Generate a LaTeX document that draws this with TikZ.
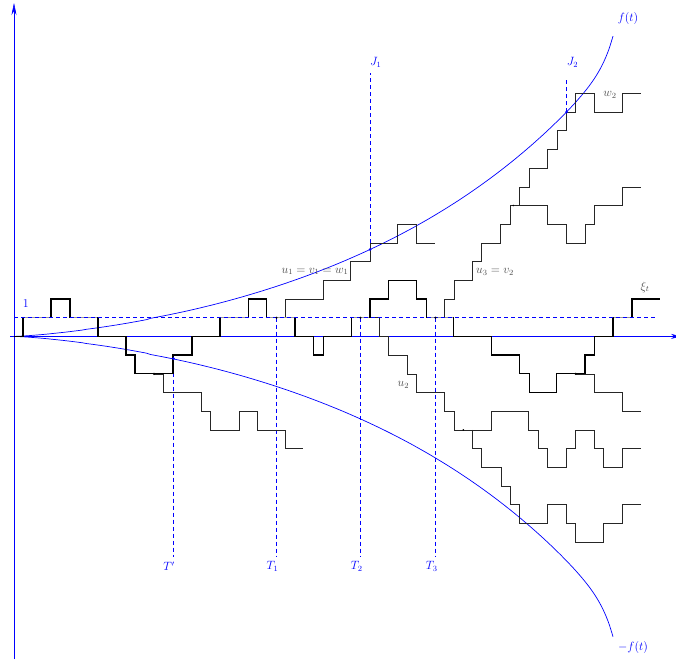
\documentclass[tikz,border=0pt]{standalone}
\usetikzlibrary{arrows.meta}
\begin{document}
\begin{tikzpicture}[x=1pt,y=-1pt,
  axis/.style={blue, line width=0.6pt},
  bound/.style={blue, line width=0.7pt},
  vdash/.style={blue, line width=0.7pt, dash pattern=on 4pt off 3pt},
  mainpath/.style={black, line width=1.3pt, line join=miter},
  hilite/.style={black!40, line width=1.3pt},
  branch/.style={black!85, line width=0.6pt},
  lab/.style={blue, font=\large, inner sep=1pt},
  glab/.style={black!70, font=\large, inner sep=1pt},
  bdot/.style={circle, fill=blue, inner sep=0pt, minimum size=3pt},
  kdot/.style={circle, fill=black, inner sep=0pt, minimum size=2.4pt},
  declare function={ff(\t)=277.5*pow(\t/(1200-\t),1.345)+24*exp(max((\t-599)/10,-9));},
]
\useasboundingbox (0,0) rectangle (676,659);

% axes
\coordinate (xa0) at (10,336.4);
\coordinate (xa1) at (681,336.4);
\coordinate (ya0) at (14,659);
\coordinate (ya1) at (14,3);
\draw[axis,-{Stealth[length=10pt,width=5pt]}] (xa0) -- (xa1);
\draw[axis,-{Stealth[length=12pt,width=5pt]}] (ya0) -- (ya1);

% boundary curves f(t) and -f(t)
\coordinate (o) at (14,336.4);
\draw[bound] (o) -- plot[domain=1:599, samples=160, smooth] ({14+\x},{336.4-ff(\x)});
\draw[bound] (o) -- plot[domain=1:599, samples=160, smooth] ({14+\x},{336.4+ff(\x)});

% vertical dashed lines
\coordinate (tp0) at (173.5,358.6); \coordinate (tp1) at (173.5,557);
\coordinate (t10) at (276.5,317.7); \coordinate (t11) at (276.5,557);
\coordinate (t20) at (360.5,317.7); \coordinate (t21) at (360.5,557);
\coordinate (t30) at (435.5,317.7); \coordinate (t31) at (435.5,557);
\coordinate (j10) at (370,249.5); \coordinate (j11) at (370,73);
\coordinate (j20) at (566.7,112); \coordinate (j21) at (566.7,78);
\draw[vdash] (tp0) -- (tp1);
\draw[vdash] (t10) -- (t11);
\draw[vdash] (t20) -- (t21);
\draw[vdash] (t30) -- (t31);
\draw[vdash] (j10) -- (j11);
\draw[vdash] (j20) -- (j21);

\begin{scope}[y=18.7pt, yshift=-336.4pt]
% branch from T'
\draw[branch] (154,-2) -- (163,-2) -- (163,-3) -- (201,-3) -- (201,-4) -- (210.7,-4) -- (210.7,-5) -- (239,-5) -- (239,-4) -- (257.3,-4) -- (257.3,-5) -- (285.3,-5) -- (285.3,-6) -- (303.3,-6);
% branch u1 = v1 = w1
\draw[branch] (276.5,1) -- (285.7,1) -- (285.7,2) -- (323.3,2) -- (323.3,3) -- (350.7,3) -- (350.7,4) -- (370,4) -- (370,5) -- (397.7,5) -- (397.7,6) -- (416.7,6) -- (416.7,5) -- (435,5);
% branch u2
\draw[branch] (360.5,1) -- (379,1) -- (379,0) -- (388.3,0) -- (388.3,-1) -- (407.3,-1) -- (407.3,-2) -- (416.7,-2) -- (416.7,-3) -- (444,-3) -- (444,-4) -- (454,-4) -- (454,-5) -- (472.7,-5);
\draw[branch] (472.7,-5) -- (472.7,-6) -- (481.7,-6) -- (481.7,-7) -- (501,-7) -- (501,-8) -- (510,-8) -- (510,-9) -- (519.3,-9) -- (519.3,-10) -- (547.3,-10) -- (547.3,-9) -- (566,-9) -- (566,-10) -- (575.7,-10) -- (575.7,-11) -- (603.3,-11) -- (603.3,-10) -- (622.3,-10) -- (622.3,-9) -- (640.7,-9);
\draw[branch] (472.7,-5) -- (491.7,-5) -- (491.7,-4) -- (528.3,-4) -- (528.3,-5) -- (538.3,-5) -- (538.3,-6) -- (547.7,-6) -- (547.7,-7) -- (566.7,-7) -- (566.7,-6) -- (575.7,-6) -- (575.7,-5) -- (594.3,-5) -- (594.3,-6) -- (603.3,-6) -- (603.3,-7) -- (622.3,-7) -- (622.3,-6) -- (640.7,-6);
% branch from right dot
\draw[branch] (575.7,-2) -- (594.3,-2) -- (594.3,-3) -- (622.3,-3) -- (622.3,-4) -- (640.7,-4);
% branch u3 = v2 and w2
\draw[branch] (435.5,1) -- (444.3,1) -- (444.3,2) -- (454.3,2) -- (454.3,3) -- (472.7,3) -- (472.7,4) -- (481.7,4) -- (481.7,5) -- (500.7,5) -- (500.7,6) -- (510.7,6) -- (510.7,7) -- (519.3,7) -- (519.3,8) -- (529,8) -- (529,9) -- (547.7,9) -- (547.7,10) -- (557.3,10) -- (557.3,11) -- (566.7,11) -- (566.7,12) -- (575.7,12) -- (575.7,13) -- (594.3,13) -- (594.3,12) -- (622.3,12) -- (622.3,13) -- (640.7,13);
\draw[branch] (510.7,7) -- (547.7,7) -- (547.7,6) -- (566.7,6) -- (566.7,5) -- (585,5) -- (585,6) -- (594.3,6) -- (594.3,7) -- (622.3,7) -- (622.3,8) -- (640.7,8);

% main path xi_t
\draw[mainpath] (14,0) -- (23,0) -- (23,1) -- (51,1) -- (51,2) -- (70,2) -- (70,1) -- (98,1) -- (98,0) -- (126,0) -- (126,-1) -- (135,-1) -- (135,-2) -- (173,-2) -- (173,-1) -- (192,-1) -- (192,0) -- (220,0) -- (220,1) -- (248.3,1) -- (248.3,2) -- (266.7,2) -- (266.7,1) -- (295,1) -- (295,0) -- (313.3,0) -- (313.3,-1) -- (323.3,-1) -- (323.3,0) -- (351.7,0) -- (351.7,1) -- (370,1) -- (370,2) -- (388.3,2) -- (388.3,3) -- (416.7,3) -- (416.7,2) -- (426.7,2) -- (426.7,1) -- (453.3,1) -- (453.3,0) -- (491.7,0) -- (491.7,-1) -- (519.3,-1) -- (519.3,-2) -- (529.3,-2) -- (529.3,-3) -- (556.7,-3) -- (556.7,-2) -- (585,-2) -- (585,-1) -- (594.3,-1) -- (594.3,0) -- (613,0) -- (613,1) -- (632,1) -- (632,2) -- (660,2);
% level-one stretches shown lighter
\draw[hilite] (23.6,1) -- (50.4,1);
\draw[hilite] (70.6,1) -- (97.4,1);
\draw[hilite] (220.6,1) -- (247.7,1);
\draw[hilite] (267.3,1) -- (294.4,1);
\draw[hilite] (352.3,1) -- (369.4,1);
\draw[hilite] (427.3,1) -- (452.7,1);
\draw[hilite] (613.6,1) -- (631.4,1);

% level one
\coordinate (h0) at (14,1);
\coordinate (h1) at (655,1);
\draw[vdash] (h0) -- (h1);

% marked points
\node[kdot] (d1) at (154,-2) {};
\node[kdot] (d2) at (575.7,-2) {};
\node[kdot] (d3) at (276.5,1) {};
\node[kdot] (d4) at (360.5,1) {};
\node[kdot] (d5) at (435.5,1) {};
\node[kdot, minimum size=1.8pt] (d6) at (463.3,-5) {};
\node[kdot, minimum size=1.8pt] (d7) at (513.3,7) {};
\end{scope}

\node[bdot] (bT) at (tp0) {};
\node[bdot] (bJ1) at (j10) {};
\node[bdot] (bJ2) at (j20) {};

% labels
\node[lab] (l1) at (25.7,303.3) {$1$};
\node[lab] (lTp) at (169,566) {$T'$};
\node[lab] (lT1) at (272.5,566) {$T_1$};
\node[lab] (lT2) at (356.7,566) {$T_2$};
\node[lab] (lT3) at (431.7,566) {$T_3$};
\node[lab] (lJ1) at (375.8,62) {$J_1$};
\node[lab] (lJ2) at (572.5,62) {$J_2$};
\node[lab] (lf) at (628,18) {$f(t)$};
\node[lab] (lmf) at (633,647) {$-f(t)$};
\node[glab] (lu1) at (315,271.5) {$u_1=v_1=w_1$};
\node[glab] (lu2) at (403.3,385) {$u_2$};
\node[glab] (lu3) at (495,272) {$u_3=v_2$};
\node[glab] (lw2) at (610,95) {$w_2$};
\node[glab] (lxi) at (645,287) {$\xi_t$};
\end{tikzpicture}
\end{document}
